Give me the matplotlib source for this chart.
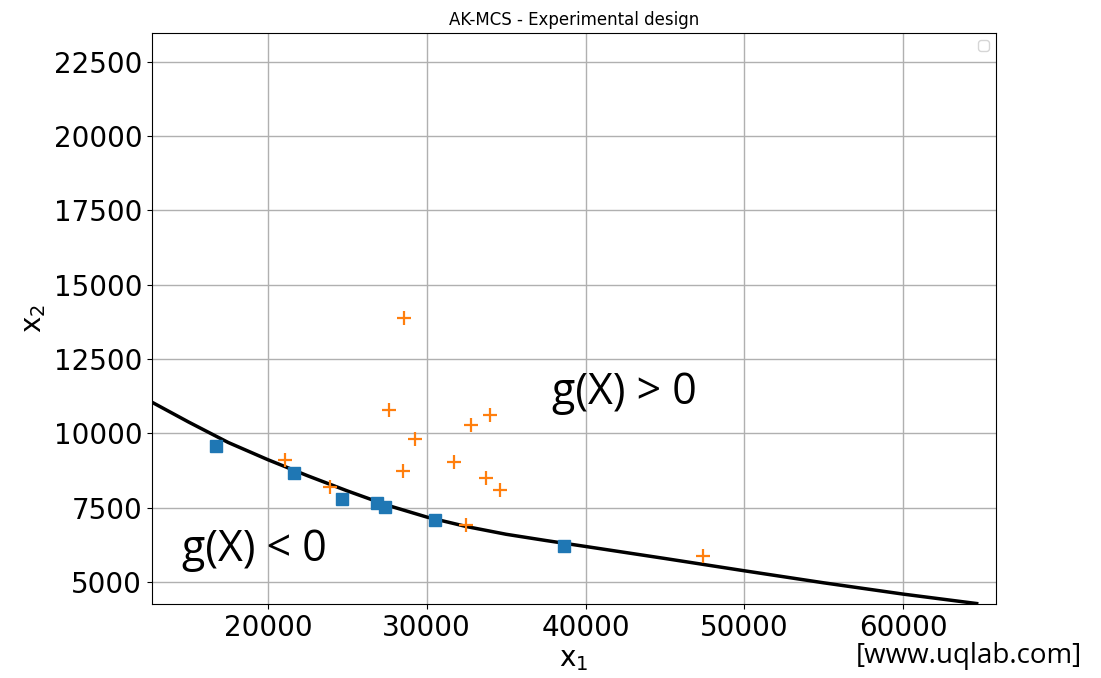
import matplotlib
matplotlib.use("Agg")
from matplotlib import pyplot as plt

# experimental design: initial samples (squares) and enriched samples (plus)
init_x1 = [16711, 21645, 24669, 26875, 27404, 30517, 38627]
init_x2 = [9562, 8676, 7776, 7665, 7530, 7082, 6193]

added_x1 = [21103, 23913, 27656, 29269, 28513, 31689, 32760, 33957, 33705, 34631, 32445, 28557, 47398]
added_x2 = [9114, 8204, 10775, 9798, 8733, 9046, 10270, 10620, 8484, 8080, 6924, 13865, 5866]

# limit state surface g(X) = 0
limit_x1 = [12700, 15000, 17500, 20000, 22500, 25000, 27500, 30000, 32500,
            35000, 37500, 40000, 45000, 50000, 55000, 60000, 64625]
limit_x2 = [11045, 10380, 9690, 9110, 8570, 8060, 7580, 7180, 6860,
            6600, 6390, 6190, 5785, 5371, 4966, 4586, 4269]

x_ticks = [20000, 30000, 40000, 50000, 60000]
y_ticks = [5000, 7500, 10000, 12500, 15000, 17500, 20000, 22500]

fig = plt.figure(figsize=(11.01, 6.78), dpi=100)
ax = fig.add_axes([0.138, 0.109, 0.7666, 0.8423])

ax.plot(limit_x1, limit_x2, color="black", linewidth=2.5, zorder=3)
ax.plot(init_x1, init_x2, linestyle="none", marker="s", markersize=9,
        color="#1f77b4", zorder=4)
ax.plot(added_x1, added_x2, linestyle="none", marker="+", markersize=10,
        markeredgewidth=1.6, color="#ff7f0e", zorder=4)

ax.set_xlim(12700, 65840)
ax.set_ylim(4250, 23470)
ax.set_xticks(x_ticks)
ax.set_yticks(y_ticks)
ax.tick_params(labelsize=20)
ax.grid(True, color="#b0b0b0", linewidth=1)
ax.set_axisbelow(True)

ax.set_title("AK-MCS - Experimental design", fontsize=12)
ax.set_xlabel(r"$\mathrm{x_1}$", fontsize=20, labelpad=2)
ax.set_ylabel(r"$\mathrm{x_2}$", fontsize=20, labelpad=4)

# empty legend box, as produced by the original script
leg = ax.legend(handles=[], loc="upper right")

ax.text(0.474, 0.37, "g(X) > 0", transform=ax.transAxes,
        fontsize=31, family="Open Sans", va="center", ha="left")
ax.text(0.036, 0.096, "g(X) < 0", transform=ax.transAxes,
        fontsize=31, family="Open Sans", va="center", ha="left")

fig.text(0.777, 0.033, "[www.uqlab.com]", fontsize=20, family="Open Sans",
         va="center", ha="left")

fig.savefig("out.png", dpi=100)
